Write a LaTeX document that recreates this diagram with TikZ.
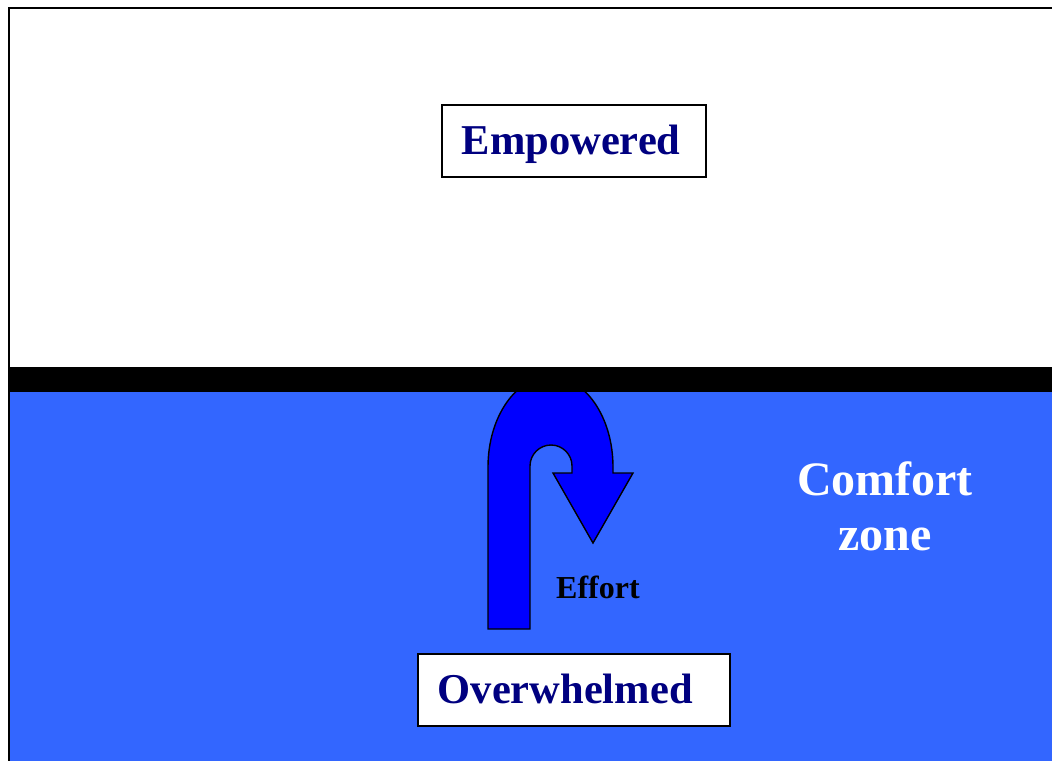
\documentclass[tikz,border=0pt]{standalone}
\usepackage{fontspec}
\setmainfont{Liberation Serif}
\usepackage{tikz}
\definecolor{zoneblue}{HTML}{3366FF}
\definecolor{effortblue}{HTML}{0000FF}
\definecolor{labelnavy}{HTML}{000080}
\tikzstyle{statebox} = [rectangle, draw=black, line width=1.5pt, fill=white,
anchor=north west, inner xsep=20pt, inner ysep=0pt, text height=50pt, text depth=22pt,
align=left, text=labelnavy, font=\fontsize{42.5}{50}\selectfont\bfseries]
\tikzstyle{zonetext} = [inner sep=0pt, align=center, text=white,
font=\fontsize{48}{55}\selectfont\bfseries]
\tikzstyle{efforttext} = [anchor=base west, inner sep=0pt, text=black,
font=\fontsize{32}{38}\selectfont\bfseries]

\begin{document}
\begin{tikzpicture}[x=1pt,y=-1pt]
      \useasboundingbox (0,0) rectangle (1052,761);
      \fill [white] (0,0) rectangle (1052,761);
      % comfort zone and frame
      \fill [zoneblue] (9,392) rectangle (1052,761);
      \draw [line width=2pt] (1052,7.5) -- (9,7.5) -- (9,761);

      % effort arrow, the band covers its top
      \draw [fill=effortblue, line width=1.4pt] (488,629) -- (488,467)
        arc [start angle=180, end angle=360, x radius=62.5, y radius=90.5]
        -- (613,473) -- (633,473) -- (593,543) -- (553,473) -- (572,473) -- (572,466)
        arc [start angle=0, end angle=-180, radius=21] -- (530,629) -- cycle;
      \fill [black] (8,367) rectangle (1052,392);

      \node (empowered) [statebox, text width=224pt] at (441,104) {Empowered};
      \node (overwhelmed) [statebox, text width=272pt] at (417,653) {Overwhelmed};
      \node (effort) [efforttext] at (556,598) {Effort};
      \node (comfort) [zonetext] at (885,506) {Comfort\\zone};
    \end{tikzpicture}
\end{document}
